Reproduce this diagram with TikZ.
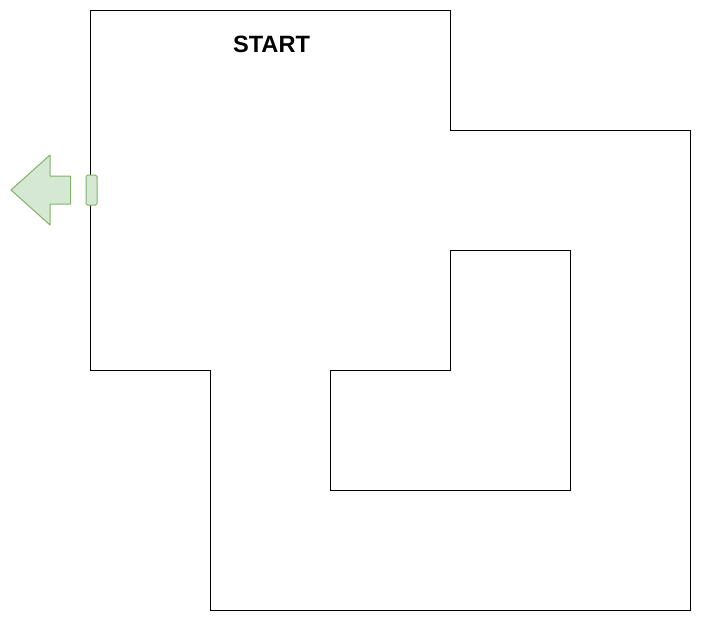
\documentclass[tikz,border=0pt]{standalone}
\usepackage{fontspec}
\setmainfont{Liberation Sans}
\definecolor{doorfill}{HTML}{D5E8D4}
\definecolor{doorline}{HTML}{82B366}
\tikzset{
  wall/.style={draw=black, line width=1pt},
  exitmark/.style={fill=doorfill, draw=doorline, line width=1pt, line join=round}
}
\begin{document}
\begin{tikzpicture}[x=1pt, y=-1pt]
    \useasboundingbox (0,0) rectangle (701,621);
    % outer walls
    \draw[wall] (90,10) -- (450,10) -- (450,130) -- (690,130) -- (690,610) -- (210,610) -- (210,370) -- (90,370) -- cycle;
    % inner block
    \draw[wall] (450,250) -- (570,250) -- (570,490) -- (330,490) -- (330,370) -- (450,370) -- cycle;
    % door and exit arrow
    \draw[exitmark, rounded corners=1.5pt] (86,175) rectangle (97,205);
    \draw[exitmark] (11,190) -- (50,155) -- (50,176) -- (70.5,176) -- (70.5,204) -- (50,204) -- (50,225) -- cycle;
    \node[font=\bfseries, scale=2.36] (start) at (271.5,44) {START};
  \end{tikzpicture}
\end{document}
